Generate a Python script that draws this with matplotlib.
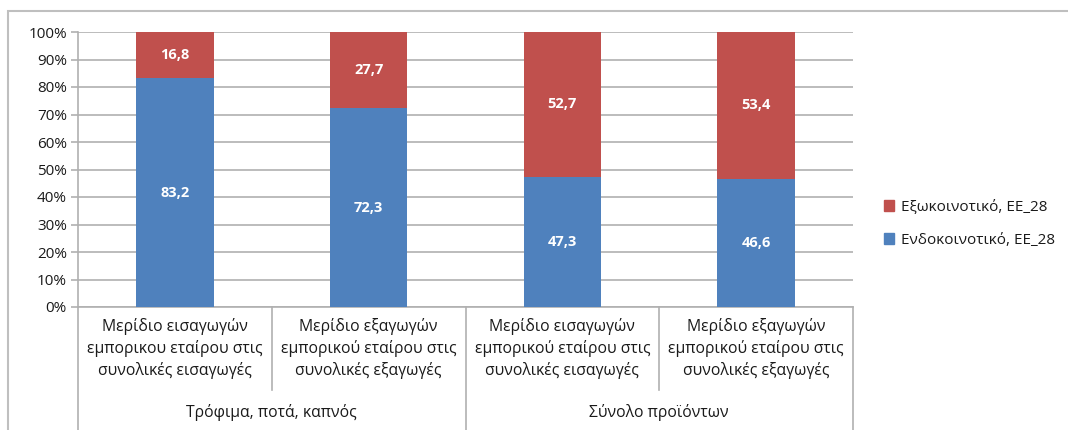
import matplotlib.pyplot as plt
from matplotlib.patches import Rectangle, Patch
from matplotlib.transforms import blended_transform_factory

plt.rcParams['font.family'] = ['Open Sans', 'DejaVu Sans']

# data
categories = ['Μερίδιο εισαγωγών\nεμπορικου εταίρου στις\nσυνολικές εισαγωγές',
              'Μερίδιο εξαγωγών\nεμπορικού εταίρου στις\nσυνολικές εξαγωγές',
              'Μερίδιο εισαγωγών\nεμπορικού εταίρου στις\nσυνολικές εισαγωγές',
              'Μερίδιο εξαγωγών\nεμπορικού εταίρου στις\nσυνολικές εξαγωγές']
groups = ['Τρόφιμα, ποτά, καπνός', 'Σύνολο προϊόντων']
intra = [83.2, 72.3, 47.3, 46.6]
extra = [16.8, 27.7, 52.7, 53.4]
series_names = ['Εξωκοινοτικό, ΕΕ_28', 'Ενδοκοινοτικό, ΕΕ_28']

blue = '#4F81BD'
red = '#C0504D'
grid_c = '#B0B0B0'
txt_c = '#1a1a1a'

fig = plt.figure(figsize=(10.68, 4.30), dpi=100)
ax = fig.add_axes([78/1068, 1-307/430, (853-78)/1068, 275/430])

x = list(range(len(categories)))
ax.bar(x, intra, width=0.4, color=blue, zorder=3)
ax.bar(x, extra, width=0.4, bottom=intra, color=red, zorder=3)

for i in x:
    ax.text(i, intra[i]/2, f'{intra[i]:.1f}'.replace('.', ','), ha='center', va='center',
            color='white', fontsize=10.5, fontweight='bold', zorder=4)
    ax.text(i, intra[i] + extra[i]/2, f'{extra[i]:.1f}'.replace('.', ','), ha='center',
            va='center', color='white', fontsize=10.5, fontweight='bold', zorder=4)

ax.set_xlim(-0.5, 3.5)
ax.set_ylim(0, 100)
ax.set_yticks(range(0, 101, 10))
ax.set_yticklabels([f'{v}%' for v in range(0, 101, 10)], fontsize=11, color=txt_c)
ax.yaxis.grid(True, color=grid_c, linewidth=1.2, zorder=0)
ax.tick_params(axis='y', length=5, color=grid_c, width=1.2, pad=3)
ax.set_xticks([])
for s in ['top', 'right']:
    ax.spines[s].set_visible(False)
ax.spines['left'].set_color(grid_c)
ax.spines['bottom'].set_color(grid_c)
ax.spines['left'].set_linewidth(1.2)
ax.spines['bottom'].set_linewidth(1.2)

# category labels and separators below the axis
tr = blended_transform_factory(ax.transData, ax.transAxes)
for i, lab in enumerate(categories):
    ax.text(i, -0.04, lab, transform=tr, ha='center', va='top', fontsize=11.3,
            linespacing=1.38, color=txt_c)
for j, g in enumerate(groups):
    ax.text(2*j + 0.5, -0.385, g, transform=tr, ha='center', va='center', fontsize=11.3,
            color=txt_c)
for xs, y0 in [(-0.5, -0.45), (0.5, -0.30), (1.5, -0.45), (2.5, -0.30), (3.5, -0.45)]:
    ax.plot([xs, xs], [0, y0], transform=tr, color=grid_c, linewidth=1.2, clip_on=False)

# legend
handles = [Patch(color=red), Patch(color=blue)]
fig.legend(handles, series_names, loc='center left', bbox_to_anchor=(870/1068, 1-224/430),
           frameon=False, fontsize=11, handlelength=0.7, handleheight=0.7,
           handletextpad=0.4, labelspacing=1.2, labelcolor=txt_c)

# outer border
fig.patches.append(Rectangle((8/1068, -0.1), 1.1, 1.1 - 11/430, transform=fig.transFigure,
                             fill=False, edgecolor='#BFBFBF', linewidth=1.5))

fig.savefig('out.png', dpi=100)
